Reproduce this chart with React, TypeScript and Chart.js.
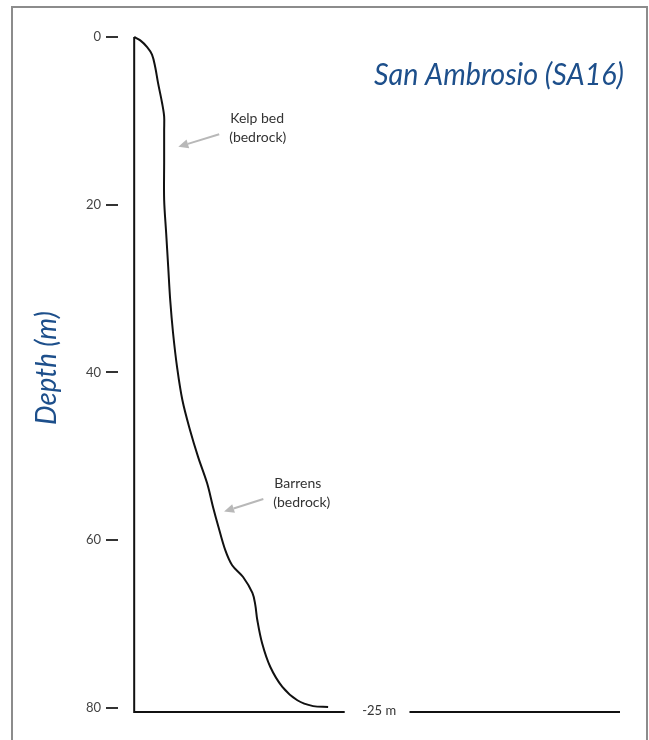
import React, { useEffect, useRef } from "react";
import { Chart, registerables } from "chart.js";

Chart.register(...registerables);

// ---- data ----
const depthTicks = [0, 20, 40, 60, 80];
const profileDistance = [0, 1.5, 3.2, 4.4, 5.2, 5.9, 6.9, 7.4, 7.4, 7.4, 7.4, 7.9, 8.4, 8.9, 9.6, 10.6, 11.9, 13.8, 15.8, 18.0, 19.5, 20.8, 22.5, 24.2, 26.9, 29.2, 29.9, 30.4, 31.6, 33.6, 36.6, 40.3, 44.2, 47.9];
const profileDepth = [0, 0.4, 1.2, 2.1, 3.6, 5.5, 7.9, 9.5, 11.1, 15.0, 19.4, 23.4, 27.4, 31.4, 35.3, 39.4, 43.3, 46.9, 50.1, 53.2, 56.1, 58.4, 61.2, 63.0, 64.4, 66.3, 67.7, 69.5, 72.3, 75.1, 77.5, 79.1, 79.8, 79.9];
const seabedDepth = 80.5;
const baselineLeft = [0, 52];
const baselineRight = [68, 120];
const siteTitle = "San Ambrosio (SA16)";
const axisTitle = "Depth (m)";
const depthLabel = "-25 m";
const kelpLabel = ["Kelp bed", "(bedrock)"];
const barrensLabel = ["Barrens", "(bedrock)"];

const FONT = "Lato, 'Open Sans', 'Noto Sans', sans-serif";
const BLUE = "#1d4f8b";

function fitText(ctx: CanvasRenderingContext2D, text: string, x: number, y: number, width: number, align: CanvasTextAlign) {
  const w = ctx.measureText(text).width;
  const s = Math.max(0.8, Math.min(1.2, width / w));
  ctx.save();
  ctx.translate(x, y);
  ctx.scale(s, 1);
  ctx.textAlign = align;
  ctx.fillText(text, 0, 0);
  ctx.restore();
}

function arrow(ctx: CanvasRenderingContext2D, x1: number, y1: number, x2: number, y2: number) {
  const ang = Math.atan2(y2 - y1, x2 - x1);
  const len = 10;
  const hw = 4.5;
  const bx = x2 - len * Math.cos(ang);
  const by = y2 - len * Math.sin(ang);
  ctx.save();
  ctx.strokeStyle = "#b8b8b8";
  ctx.fillStyle = "#b8b8b8";
  ctx.lineWidth = 2;
  ctx.beginPath();
  ctx.moveTo(x1, y1);
  ctx.lineTo(bx, by);
  ctx.stroke();
  ctx.beginPath();
  ctx.moveTo(x2, y2);
  ctx.lineTo(bx + hw * Math.sin(ang), by - hw * Math.cos(ang));
  ctx.lineTo(bx - hw * Math.sin(ang), by + hw * Math.cos(ang));
  ctx.closePath();
  ctx.fill();
  ctx.restore();
}

const decor = {
  id: "decor",
  beforeDraw(chart: any) {
    const ctx = chart.ctx as CanvasRenderingContext2D;
    ctx.save();
    ctx.fillStyle = "#ffffff";
    ctx.fillRect(0, 0, chart.width, chart.height);
    ctx.strokeStyle = "#8c8c8c";
    ctx.lineWidth = 2;
    ctx.strokeRect(12, 7, 635, chart.height + 20);
    ctx.restore();
  },
  afterDraw(chart: any) {
    const ctx = chart.ctx as CanvasRenderingContext2D;
    const xs = chart.scales.x;
    const ys = chart.scales.y;
    const px = (v: number) => xs.getPixelForValue(v);
    const py = (v: number) => ys.getPixelForValue(v);
    ctx.save();
    // title
    ctx.fillStyle = BLUE;
    ctx.textBaseline = "alphabetic";
    ctx.font = `italic 31px ${FONT}`;
    fitText(ctx, siteTitle, 624, 85, 250, "right");
    // y axis title
    ctx.save();
    ctx.translate(56, 368);
    ctx.rotate(-Math.PI / 2);
    ctx.font = `italic 29px ${FONT}`;
    fitText(ctx, axisTitle, 0, 0, 114, "center");
    ctx.restore();
    // annotations
    ctx.fillStyle = "#333333";
    ctx.font = `14px ${FONT}`;
    ctx.textAlign = "left";
    const kx = px(23.7), ky = py(10.3);
    ctx.fillText(kelpLabel[0], kx, ky);
    ctx.fillText(kelpLabel[1], kx - 1, ky + 19);
    arrow(ctx, px(21.0), py(11.6), px(10.9), py(13.1));
    const bx = px(34.6), by = py(53.8);
    ctx.fillText(barrensLabel[0], bx, by);
    ctx.fillText(barrensLabel[1], bx - 1, by + 19);
    arrow(ctx, px(31.9), py(55.1), px(22.2), py(56.6));
    // depth label on the seabed line
    ctx.font = `13px ${FONT}`;
    ctx.textAlign = "center";
    ctx.textBaseline = "middle";
    ctx.fillText(depthLabel, px(60.5), py(seabedDepth) - 1);
    ctx.restore();
  },
};

export default function App() {
  const ref = useRef<HTMLCanvasElement | null>(null);
  useEffect(() => {
    if (!ref.current) return;
    const profile = profileDistance.map((x, i) => ({ x, y: profileDepth[i] }));
    const leftEdge = [
      { x: baselineLeft[1], y: seabedDepth },
      { x: baselineLeft[0], y: seabedDepth },
      { x: 0, y: 0 },
    ];
    const rightLine = baselineRight.map((x) => ({ x, y: seabedDepth }));
    const chart = new Chart(ref.current, {
      type: "line",
      data: {
        datasets: [
          { data: profile, borderColor: "#111", borderWidth: 2, pointRadius: 0, tension: 0.35, clip: false } as any,
          { data: leftEdge, borderColor: "#111", borderWidth: 2, pointRadius: 0, tension: 0, clip: false } as any,
          { data: rightLine, borderColor: "#111", borderWidth: 2, pointRadius: 0, tension: 0, clip: false } as any,
        ],
      },
      options: {
        responsive: false,
        animation: false,
        events: [],
        layout: { padding: { top: 37, right: 29, bottom: 28, left: 0 } },
        plugins: { legend: { display: false }, tooltip: { enabled: false }, title: { display: false } },
        scales: {
          x: { type: "linear", min: -4, max: 120, display: false },
          y: {
            type: "linear",
            min: 0,
            max: seabedDepth,
            reverse: true,
            afterBuildTicks: (scale: any) => {
              scale.ticks = depthTicks.map((v) => ({ value: v }));
            },
            afterFit: (scale: any) => {
              scale.width = 118;
            },
            border: { display: false },
            grid: { display: true, drawOnChartArea: false, drawTicks: true, tickLength: 12, color: "#333", lineWidth: 2 },
            ticks: { padding: 5, color: "#444", font: { family: FONT, size: 13 } },
          },
        },
      },
      plugins: [decor],
    } as any);
    (document as any).fonts?.ready?.then(() => chart.draw());
    return () => chart.destroy();
  }, []);
  return (
    <div style={{ position: "fixed", left: 0, top: 0, width: 649, height: 740 }}>
      <canvas ref={ref} width={649} height={740} style={{ display: "block", width: 649, height: 740 }} />
    </div>
  );
}
